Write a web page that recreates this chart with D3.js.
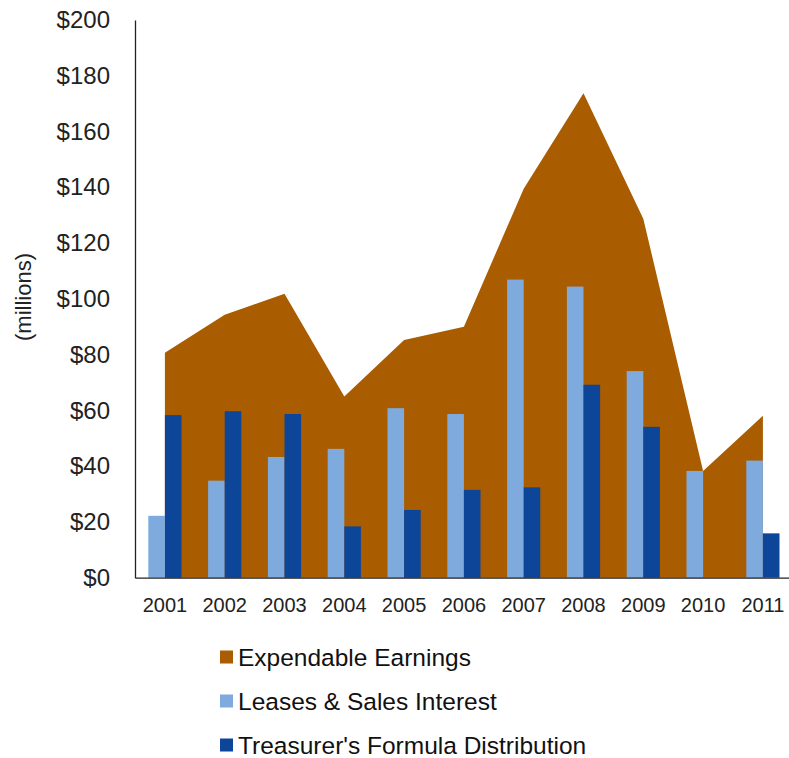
<!DOCTYPE html>
<html>
<head>
<meta charset="UTF-8">
<title>Expendable Earnings</title>
<style>
  body { margin: 0; background: #fff; }
  svg { display: block; font-family: "Liberation Sans", Arial, Helvetica, sans-serif; }
  .axis text { fill: #222; }
</style>
</head>
<body>
<div id="chart"></div>
<script src="https://d3js.org/d3.v7.min.js"></script>
<script>
const years = ["2001","2002","2003","2004","2005","2006","2007","2008","2009","2010","2011"];
const earnings = [80.7, 94.3, 101.8, 65, 85.2, 90, 139.5, 173.7, 128.7, 38.3, 58.1];
const leases = [22.2, 34.8, 43.3, 46.2, 60.8, 58.7, 106.9, 104.4, 74.1, 38.3, 42];
const treasurer = [58.3, 59.7, 58.7, 18.4, 24.3, 31.5, 32.4, 69.2, 54.1, 0, 15.9];
const yTicks = [0, 20, 40, 60, 80, 100, 120, 140, 160, 180, 200];
const seriesNames = ["Expendable Earnings", "Leases & Sales Interest", "Treasurer's Formula Distribution"];
const colors = ["#A95D00", "#7FAADD", "#0D4599"];

const width = 789, height = 758;
const svg = d3.select("#chart").append("svg").attr("width", width).attr("height", height);

const x = d3.scaleBand().domain(years).range([135, 792.8]);
const y = d3.scaleLinear().domain([0, 200]).range([577.7, 20]);
const barW = 16.6;
const center = d => x(d) + x.bandwidth() / 2;

// area for expendable earnings
const area = d3.area()
  .x((d, i) => center(years[i]))
  .y0(y(0))
  .y1(d => y(d));
svg.append("path").datum(earnings).attr("d", area).attr("fill", colors[0]);

// bars
svg.append("g").selectAll("rect").data(leases).join("rect")
  .attr("x", (d, i) => center(years[i]) - barW)
  .attr("y", d => y(d))
  .attr("width", barW)
  .attr("height", d => y(0) - y(d))
  .attr("fill", colors[1]);

svg.append("g").selectAll("rect").data(treasurer).join("rect")
  .attr("x", (d, i) => center(years[i]))
  .attr("y", d => y(d))
  .attr("width", barW)
  .attr("height", d => y(0) - y(d))
  .attr("fill", colors[2]);

// y axis
const yAxis = svg.append("g").attr("class", "axis").attr("transform", "translate(135,0)")
  .call(d3.axisLeft(y).tickValues(yTicks).tickSize(0).tickPadding(25).tickFormat(d => "$" + d));
yAxis.select(".domain").attr("stroke", "#222").attr("stroke-width", 1.3);
yAxis.selectAll("text").attr("font-size", 24);

// x axis
const xAxis = svg.append("g").attr("class", "axis").attr("transform", `translate(0,${y(0)})`)
  .call(d3.axisBottom(x).tickSize(0).tickPadding(20));
xAxis.select(".domain").attr("stroke", "#222").attr("stroke-width", 1.3);
xAxis.selectAll("text").attr("font-size", 20);

// y title
svg.append("text")
  .attr("transform", "translate(31,297) rotate(-90)")
  .attr("text-anchor", "middle")
  .attr("font-size", 22)
  .attr("fill", "#222")
  .text("(millions)");

// legend
const legend = svg.append("g").selectAll("g").data(seriesNames).join("g")
  .attr("transform", (d, i) => `translate(220,${657 + i * 44})`);
legend.append("rect").attr("x", 0).attr("y", -6.5).attr("width", 13).attr("height", 13)
  .attr("fill", (d, i) => colors[i]);
legend.append("text").attr("x", 18).attr("y", 0).attr("dy", "0.35em")
  .attr("font-size", 24.5).attr("fill", "#111").text(d => d);
</script>
</body>
</html>
